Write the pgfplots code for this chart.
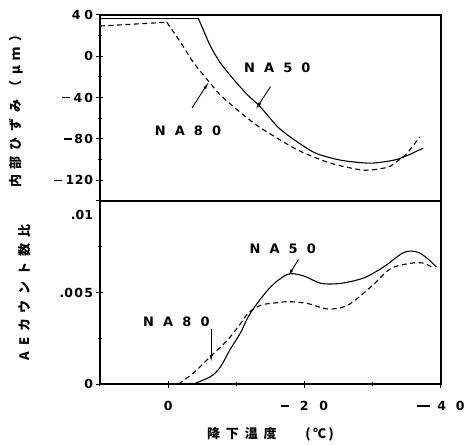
\documentclass[border=0pt]{standalone}
\usepackage{pgfplots}
\pgfplotsset{compat=1.18}
\usepackage{fontspec}
\setmainfont{DejaVu Sans}
\newfontfamily\jp{Noto Sans CJK JP}
\usetikzlibrary{arrows.meta}
\newcommand{\g}{\hspace{0.45em}}
\newcommand{\w}{\hspace{0.7em}}
\newcommand{\mn}{\rule[0.3em]{0.6em}{0.11em}}
\newcommand{\mnl}{\rule[0.3em]{1.0em}{0.11em}}
\pgfplotsset{
  myax/.style={
    scale only axis, width=341pt,
    xmin=-40, xmax=10, x dir=reverse,
    axis line style={line width=1.5pt},
    every tick/.style={line width=1pt, black},
    tick align=center, major tick length=7pt, minor tick length=4pt,
    tick label style={font=\bfseries\fontsize{12.5}{13}\selectfont},
    xtick pos=bottom, ytick pos=left,
    scaled y ticks=false,
    clip=false,
  },
  solidc/.style={black, line width=1.1pt},
  dashc/.style={black, line width=1.1pt, dash pattern=on 5pt off 3.5pt},
}
\begin{document}
\begin{tikzpicture}[font=\bfseries]
% bottom panel
\begin{axis}[myax, at={(0,0)}, height=183pt,
  ymin=0, ymax=0.01,
  xtick={0,-20,-40}, xticklabels={0, {\mn\hspace{0.9em}2\hspace{0.85em}0}, {\mnl\hspace{0.6em}4\hspace{0.8em}0}},
  minor xtick={-10,-30,10},
  ytick={0,0.005}, yticklabels={0, {.0\hspace{0.1em}0\hspace{0.1em}5}},
  minor ytick={0.0025,0.0075},
  extra y ticks={0.01}, extra y tick labels={.01},
  extra y tick style={yticklabel style={yshift=-14pt}},
  xticklabel style={yshift=-10pt},
  xlabel={\jp\bfseries\fontsize{13}{14}\selectfont 降\g 下\g 温\g 度\hspace{2.2em}(\hspace{0.2em}℃\hspace{0.2em})},
  xlabel style={yshift=-10pt},
  ylabel={\jp\bfseries\fontsize{13}{14}\selectfont A\g E\g カ\g ウ\g ン\g ト\g 数\g 比},
  ylabel style={at={(axis description cs:-0.22,0.5)}, anchor=center},
]
\addplot[solidc] coordinates {(10,0) (-3.7,0)};
\addplot[solidc, smooth, tension=0.5] coordinates {
 (-3.7,0) (-6.2,0.0004) (-7.6,0.0009) (-9.1,0.0019) (-10.6,0.0028) (-12.1,0.0039)
 (-15.0,0.0053) (-17.6,0.0060) (-19.9,0.0059) (-22.4,0.0055) (-25.3,0.0055)
 (-28.7,0.0058) (-31.6,0.0064) (-34.6,0.0072) (-36.6,0.0072) (-38.2,0.0068) (-39.3,0.0064)};
\addplot[dashc, smooth, tension=0.5] coordinates {
 (-1.5,0) (-3.7,0.0006) (-6.2,0.0015) (-8.7,0.0024) (-10.6,0.0033) (-11.8,0.0039)
 (-13.5,0.0043) (-15.0,0.0044) (-17.6,0.0045) (-20.4,0.0044) (-23.4,0.0041)
 (-26.3,0.0043) (-29.7,0.0053) (-32.6,0.0063) (-35.6,0.0066) (-37.5,0.0066) (-39.0,0.0063)};
\node[font=\bfseries\fontsize{13}{15}\selectfont] at (axis cs:-1.2,0.0034) {N\w A\w 8\w 0};
\draw[line width=0.9pt, -{Latex[length=7pt,width=3pt]}] (axis cs:-6.3,0.0030) -- (axis cs:-6.3,0.0012);
\node[font=\bfseries\fontsize{13}{15}\selectfont] at (axis cs:-16.8,0.0074) {N\w A\w 5\w 0};
\draw[line width=0.9pt, -{Latex[length=7pt,width=3pt]}] (axis cs:-19.1,0.0068) -- (axis cs:-17.6,0.0059);
\end{axis}
% top panel
\begin{axis}[myax, at={(0,183pt)}, height=186pt,
  ymin=-140, ymax=40,
  xtick=\empty,
  ytick={40,0,-40,-80,-120},
  yticklabels={{4\hspace{0.3em}0}, 0, {\mn\hspace{0.3em}4\hspace{0.15em}0}, {\mn\hspace{0.2em}8\hspace{0.1em}0}, {\mn\hspace{0.3em}1\hspace{0.05em}2\hspace{0.05em}0}},
  minor ytick={20,-20,-60,-100,-140},
  ylabel={\jp\bfseries\fontsize{13}{14}\selectfont 内\g 部\g ひ\g ず\g み\g （\g μ\g ｍ\g ）},
  ylabel style={at={(axis description cs:-0.245,0.5)}, anchor=center},
]
\addplot[solidc] coordinates {(10,37) (-4.4,37)};
\addplot[solidc, smooth, tension=0.4] coordinates {
 (-4.4,37) (-5.1,26.3) (-6.2,9.8) (-7.6,-5.9) (-9.6,-22.4) (-11.6,-37.1) (-13.5,-48.8)
 (-16.5,-71) (-21.3,-92.7) (-25.3,-100.5) (-29.7,-103.4) (-33.7,-99.5) (-37.4,-88.8)};
\addplot[dashc] coordinates {(10,29.3) (0.2,33)};
\addplot[dashc, smooth, tension=0.4] coordinates {
 (0.2,33) (-1.8,13.7) (-3.7,-5.9) (-5.7,-22.4) (-7.6,-37.1) (-10.1,-51.7)
 (-12.5,-64.4) (-14.0,-71.2) (-19.0,-90.7) (-23.8,-103.4) (-28.7,-110.2)
 (-32.2,-107.3) (-33.7,-101) (-35,-94) (-36.9,-78)};
\node[font=\bfseries\fontsize{13}{15}\selectfont] at (axis cs:-2.9,-72.2) {N\w A\w 8\w 0};
\draw[line width=0.9pt, -{Latex[length=8pt,width=3pt]}] (axis cs:-3.5,-49.8) -- (axis cs:-6.0,-24.4);
\node[font=\bfseries\fontsize{13}{15}\selectfont] at (axis cs:-16.0,-10.7) {N\w A\w 5\w 0};
\draw[line width=0.9pt, -{Latex[length=8pt,width=3pt]}] (axis cs:-15.0,-29.3) -- (axis cs:-12.8,-51.7);
\end{axis}
\pgfresetboundingbox
\path (-100pt,-60pt) rectangle (368pt,384pt);
\end{tikzpicture}
\end{document}
